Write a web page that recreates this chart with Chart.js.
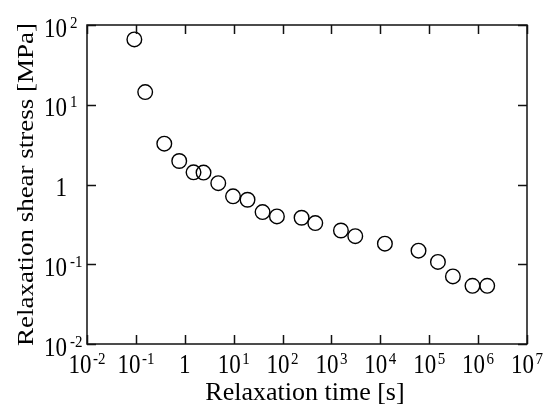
<!DOCTYPE html>
<html>
<head>
<meta charset="utf-8">
<script src="https://cdn.jsdelivr.net/npm/chart.js@4"></script>
<style>
  html, body { margin: 0; padding: 0; background: #fff; }
  canvas { display: block; }
</style>
</head>
<body>
<canvas id="grafico" width="544" height="407"></canvas>
<script>
// =====================
// Dados
// =====================
const tempos = [0.093, 0.155, 0.381, 0.77, 1.51, 2.42, 4.84, 9.7, 19.2, 39, 76.7, 245, 467,
  1563, 3070, 12400, 60400, 150700, 305000, 767000, 1535000];
const tensoes = [66, 14.4, 3.25, 1.97, 1.42, 1.41, 1.04, 0.71, 0.644, 0.451, 0.398, 0.383, 0.328,
  0.265, 0.225, 0.181, 0.148, 0.107, 0.0703, 0.0537, 0.0537];

const xTicks = [1e-2, 1e-1, 1, 1e1, 1e2, 1e3, 1e4, 1e5, 1e6, 1e7];
const xTickLabels = [["10", "-2"], ["10", "-1"], ["1", ""], ["10", "1"], ["10", "2"],
  ["10", "3"], ["10", "4"], ["10", "5"], ["10", "6"], ["10", "7"]];
const yTicks = [1e-2, 1e-1, 1, 1e1, 1e2];
const yTickLabels = [["10", "-2"], ["10", "-1"], ["1", ""], ["10", "1"], ["10", "2"]];

const xTitle = "Relaxation time [s]";
const yTitle = "Relaxation shear stress [MPa]";

const FONT = "'Liberation Serif', 'Times New Roman', serif";

// =====================
// Texto com esticamento vertical
// =====================
function texto(ctx, txt, x, y, size, align, sy) {
  ctx.save();
  ctx.translate(x, y);
  ctx.scale(1, sy);
  ctx.font = size + "px " + FONT;
  ctx.textAlign = align;
  ctx.textBaseline = "alphabetic";
  ctx.fillStyle = "#000";
  ctx.fillText(txt, 0, 0);
  ctx.restore();
}

function largura(ctx, txt, size) {
  ctx.font = size + "px " + FONT;
  return ctx.measureText(txt).width;
}

// =====================
// Moldura, ticks internos e rótulos
// =====================
const molduraPlugin = {
  id: "moldura",
  afterDraw(chart) {
    const ctx = chart.ctx;
    const a = chart.chartArea;
    const xs = chart.scales.x;
    const ys = chart.scales.y;
    const tick = 9;

    ctx.save();
    ctx.strokeStyle = "#111";
    ctx.lineWidth = 1.5;
    ctx.strokeRect(a.left, a.top, a.right - a.left, a.bottom - a.top);

    ctx.beginPath();
    xTicks.forEach((v) => {
      const px = Math.round(xs.getPixelForValue(v)) + 0.5;
      ctx.moveTo(px, a.bottom); ctx.lineTo(px, a.bottom - tick);
      ctx.moveTo(px, a.top); ctx.lineTo(px, a.top + tick);
    });
    yTicks.forEach((v) => {
      const py = Math.round(ys.getPixelForValue(v)) + 0.5;
      ctx.moveTo(a.left, py); ctx.lineTo(a.left + tick, py);
      ctx.moveTo(a.right, py); ctx.lineTo(a.right - tick, py);
    });
    ctx.stroke();
    ctx.restore();

    const base = 23, sup = 15, sy = 1.17;

    // rótulos do eixo x
    xTicks.forEach((v, i) => {
      const [b, e] = xTickLabels[i];
      const px = xs.getPixelForValue(v);
      const wb = largura(ctx, b, base);
      const we = e ? largura(ctx, e, sup) + 1.5 : 0;
      const x0 = px - (wb + we) / 2;
      texto(ctx, b, x0, a.bottom + 29, base, "left", sy);
      if (e) texto(ctx, e, x0 + wb + 1.5, a.bottom + 19.5, sup, "left", sy);
    });

    // rótulos do eixo y
    const xr = a.left - 20;
    yTicks.forEach((v, i) => {
      const [b, e] = yTickLabels[i];
      const py = ys.getPixelForValue(v);
      texto(ctx, b, xr, py + 11.5, base, "right", sy);
      if (e) texto(ctx, e, xr + 3, py + 2.5, sup, "left", sy);
    });

    // títulos
    texto(ctx, xTitle, (a.left + a.right) / 2 - 2, 400, 26, "center", 1);
    ctx.save();
    ctx.translate(33, (a.top + a.bottom) / 2);
    ctx.rotate(-Math.PI / 2);
    ctx.scale(1, 0.88);
    ctx.font = "27px " + FONT;
    ctx.textAlign = "center";
    ctx.textBaseline = "alphabetic";
    ctx.fillStyle = "#000";
    ctx.fillText(yTitle, 0, 0);
    ctx.restore();
  },
};

// =====================
// Gráfico
// =====================
const ctx = document.getElementById("grafico").getContext("2d");
const chart = new Chart(ctx, {
  type: "scatter",
  data: {
    datasets: [
      {
        label: "Relaxation shear stress",
        data: tempos.map((t, i) => ({ x: t, y: tensoes[i] })),
        pointStyle: "circle",
        pointRadius: 7.3,
        pointHoverRadius: 7.3,
        borderColor: "#000",
        backgroundColor: "rgba(0,0,0,0)",
        borderWidth: 1.4,
      },
    ],
  },
  options: {
    responsive: false,
    animation: false,
    events: [],
    layout: { padding: { top: 25, right: 17, left: 0, bottom: 0 } },
    plugins: {
      legend: { display: false },
      tooltip: { enabled: false },
    },
    scales: {
      x: {
        type: "logarithmic",
        min: 1e-2,
        max: 1e7,
        ticks: { display: false },
        grid: { display: false },
        border: { display: false },
        afterFit: (s) => { s.height = 63; },
      },
      y: {
        type: "logarithmic",
        min: 1e-2,
        max: 1e2,
        ticks: { display: false },
        grid: { display: false },
        border: { display: false },
        afterFit: (s) => { s.width = 87; },
      },
    },
  },
  plugins: [molduraPlugin],
});
</script>
</body>
</html>
